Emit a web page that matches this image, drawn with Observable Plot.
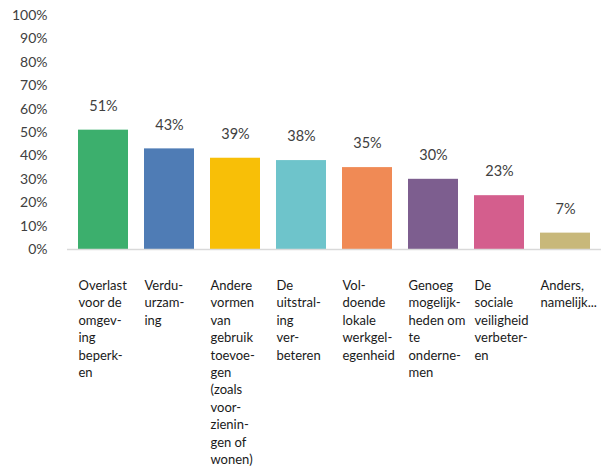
<!DOCTYPE html>
<html><head><meta charset="utf-8">
<script src="https://cdn.jsdelivr.net/npm/d3@7"></script>
<script src="https://cdn.jsdelivr.net/npm/@observablehq/plot@0.6"></script>
<style>body{margin:0;background:#fff}</style>
</head><body><div id="chart"></div>
<script>
const categories = ["Overlast voor de omgeving beperken","Verduurzaming","Andere vormen van gebruik toevoegen (zoals voorzieningen of wonen)","De uitstraling verbeteren","Voldoende lokale werkgelegenheid","Genoeg mogelijkheden om te ondernemen","De sociale veiligheid verbeteren","Anders, namelijk..."];
const values = [0.51, 0.43, 0.39, 0.38, 0.35, 0.30, 0.23, 0.07];
const colors = ["#3caf6d","#4f7cb5","#f8bf07","#6ec4cb","#f08a55","#7d5e8f","#d45e8d","#c8b87a"];
const labels = [
  "Overlast\nvoor de\nomgev-\ning\nbeperk-\nen",
  "Verdu-\nurzam-\ning",
  "Andere\nvormen\nvan\ngebruik\ntoevoe-\ngen\n(zoals\nvoor-\nzienin-\ngen of\nwonen)",
  "De\nuitstral-\ning\nver-\nbeteren",
  "Vol-\ndoende\nlokale\nwerkgel-\negenheid",
  "Genoeg\nmogelijk-\nheden om\nte\nonderne-\nmen",
  "De\nsociale\nveiligheid\nverbeter-\nen",
  "Anders,\nnamelijk..."
];
const yTicks = [0,0.1,0.2,0.3,0.4,0.5,0.6,0.7,0.8,0.9,1];

const data = categories.map((c,i)=>({cat:c, value:values[i], color:colors[i], label:labels[i]}));

const chart = Plot.plot({
  width: 602, height: 467,
  marginLeft: 67, marginRight: 1, marginTop: 15, marginBottom: 218,
  style: {fontFamily: "Lato, sans-serif", background: "#fff"},
  x: {domain: categories, paddingInner: 0.25, paddingOuter: 0.125, axis: null},
  y: {domain: [0,1], axis: null},
  marks: [
    Plot.axisY({ticks: yTicks, tickFormat: d => Math.round(d*100) + "%", tickSize: 0, tickPadding: 20, fontSize: 14, fill: "#404040", label: null}),
    Plot.barY(data, {x: "cat", y: "value", fill: "color"}),
    Plot.ruleX([0], {frameAnchor: "left", y1: 0, y2: 1, stroke: "#d9d9d9", strokeWidth: 1.5}),
    Plot.ruleY([0], {stroke: "#d9d9d9", strokeWidth: 1.5}),
    Plot.text(data, {x: "cat", y: "value", text: d => Math.round(d.value*100) + "%", dy: -24, fontSize: 14.5, fill: "#404040"}),
    Plot.text(data, {x: "cat", frameAnchor: "bottom", text: "label", textAnchor: "start", lineAnchor: "top", dx: -25, dy: 28, lineHeight: 1.34, fontSize: 13, fill: "#1a1a1a"})
  ]
});
document.getElementById("chart").appendChild(chart);
</script>
</body></html>
